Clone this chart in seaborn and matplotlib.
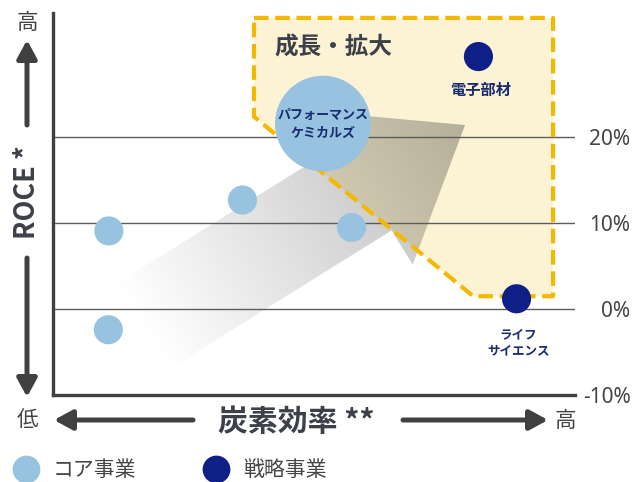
import numpy as np
import pandas as pd
import matplotlib
matplotlib.use('Agg')
import matplotlib.pyplot as plt
from matplotlib.patches import Polygon
from matplotlib.path import Path
from matplotlib.lines import Line2D
import seaborn as sns

#------------------------------ data ------------------------------#
labels = ['', '', '', '', 'パフォーマンス\nケミカルズ', '電子部材', 'ライフ\nサイエンス']
carbon_eff = [10.7, 10.6, 36.3, 57.2, 51.7, 81.5, 88.8]   # 炭素効率 (0-100, 低→高)
roce = [9.1, -2.4, 12.7, 9.5, 21.6, 29.4, 1.2]             # ROCE [%]
group = ['コア事業'] * 5 + ['戦略事業'] * 2
bubble = ['small', 'small', 'small', 'small', 'large', 'small', 'small']

ytick_vals = [-10, 0, 10, 20]
ytick_labels = ['-10%', '0%', '10%', '20%']

# 成長・拡大 zone (dashed) and the grey trend arrow, in data coords
zone_x = [38.5, 95.8, 95.8, 80.5, 38.5]
zone_y = [33.9, 33.9, 1.5, 1.5, 22.4]
arrow_x = [12.55, 54.69, 50.57, 78.93, 68.91, 64.85, 22.70]
arrow_y = [3.10, 19.05, 23.00, 21.43, 5.19, 9.15, -6.80]

df = pd.DataFrame({'x': carbon_eff, 'y': roce, 'group': group,
                   'bubble': bubble, 'label': labels})

#------------------------------ style ------------------------------#
sns.set_theme(style='white')
plt.rcParams['font.family'] = ['Noto Sans CJK JP', 'DejaVu Sans']

light_blue = '#97c3e0'
navy = '#0e1f88'
label_navy = '#182b6e'
dark = '#3d4048'
cream = np.array([252, 243, 213]) / 255
gold = '#f5b800'

fig = plt.figure(figsize=(6.34, 4.82), dpi=100)
ax = fig.add_axes([53 / 634, 87 / 482, 522 / 634, 382 / 482])

# yellow zone fill
ax.add_patch(Polygon(np.column_stack([zone_x, zone_y]), closed=True,
                     facecolor=cream, edgecolor='none', zorder=0.1))

# grey gradient arrow (multiplied on whatever is below it)
ext = [min(arrow_x), max(arrow_x), min(arrow_y), max(arrow_y)]
gx = np.linspace(ext[0], ext[1], 500)
gy = np.linspace(ext[2], ext[3], 400)
XX, YY = np.meshgrid(gx, gy)
u = (XX - 17.62) * 5.22
v = (YY + 1.85) * 8.59
t = np.clip((u * 0.85 + v * 0.53) / 378, 0, 1)
shade = 1 - 0.28 * t
zone_path = Path(np.column_stack([zone_x, zone_y]))
inside = zone_path.contains_points(np.column_stack([XX.ravel(), YY.ravel()])).reshape(XX.shape)
bg = np.where(inside[..., None], cream[None, None, :], np.ones(3)[None, None, :])
img = bg * shade[..., None]
im = ax.imshow(img, extent=ext, origin='lower', aspect='auto',
               interpolation='bilinear', zorder=0.2)
arrow_patch = Polygon(np.column_stack([arrow_x, arrow_y]), closed=True,
                      facecolor='none', edgecolor='none', transform=ax.transData)
ax.add_patch(arrow_patch)
im.set_clip_path(arrow_patch)

# dashed outline of the zone
ax.add_patch(Polygon(np.column_stack([zone_x, zone_y]), closed=True, fill=False,
                     edgecolor=gold, linewidth=3, linestyle=(0, (3.5, 1.6)),
                     joinstyle='round', zorder=1))

# bubbles
sns.scatterplot(data=df, x='x', y='y', hue='group', size='bubble',
                sizes={'small': 440, 'large': 4750},
                palette={'コア事業': light_blue, '戦略事業': navy},
                edgecolor='none', linewidth=0, legend=False, ax=ax, zorder=3)

label_style = {
    'パフォーマンス\nケミカルズ': dict(offset=(0, 0), size=9.4, ls=1.35),
    '電子部材': dict(offset=(1.4, -24), size=11, ls=1.2),
    'ライフ\nサイエンス': dict(offset=(1.4, -31.5), size=9, ls=1.25),
}
for _, r in df.iterrows():
    if r['label']:
        st = label_style[r['label']]
        ax.annotate(r['label'], (r['x'], r['y']), xytext=st['offset'],
                    textcoords='offset points', ha='center', va='center',
                    fontsize=st['size'], fontweight='bold', color=label_navy,
                    linespacing=st['ls'], zorder=4)

ax.text(53.8, 30.45, '成長・拡大', ha='center', va='center', fontsize=17,
        fontweight='bold', color=dark, zorder=4)

# axes
ax.set_xlim(0, 100)
ax.set_ylim(-10, 34.47)
ax.set_xticks([])
ax.yaxis.tick_right()
ax.set_yticks(ytick_vals)
ax.set_yticklabels(ytick_labels, ha='right', fontsize=15, color='#454545',
                   family=['Noto Sans', 'DejaVu Sans'])
ax.tick_params(axis='y', length=0, pad=40)
ax.set_xlabel('')
ax.set_ylabel('')
ax.grid(axis='y', color='#5c5c5c', linewidth=1.0)
ax.grid(axis='x', visible=False)
ax.set_axisbelow(True)
for side in ['top', 'right']:
    ax.spines[side].set_visible(False)
for side in ['left', 'bottom']:
    ax.spines[side].set_color('#404040')
    ax.spines[side].set_linewidth(2.4)

# axis direction arrows and captions
arw = dict(arrowstyle='-|>,head_length=0.55,head_width=0.3', lw=3.6,
           color='#404040', mutation_scale=20, shrinkA=0, shrinkB=0)
for tail, tip in [((27, 357), (27, 442)), ((27, 224), (27, 85)),
                  ((193, 62), (54, 62)), ((403, 62), (548, 62))]:
    ax.annotate('', xy=tip, xytext=tail, xycoords='figure pixels',
                textcoords='figure pixels', arrowprops=arw)

fig.text(27 / 634, 459 / 482, '高', ha='center', va='center', fontsize=15.5, color='#454545')
fig.text(27 / 634, 62 / 482, '低', ha='center', va='center', fontsize=15.5, color='#454545')
fig.text(565 / 634, 61 / 482, '高', ha='center', va='center', fontsize=15.5, color='#454545')
fig.text(27 / 634, 289.5 / 482, 'ROCE *', rotation=90, ha='center', va='center',
         fontsize=19.5, fontweight='bold', color=dark)
fig.text(296.5 / 634, 59.5 / 482, '炭素効率 **', ha='center', va='center',
         fontsize=21.5, fontweight='bold', color=dark)

# legend
handles = [Line2D([], [], marker='o', linestyle='none', markersize=20,
                  markerfacecolor=c, markeredgecolor='none')
           for c in [light_blue, navy]]
fig.legend(handles, ['コア事業', '戦略事業'], loc='center left',
           bbox_to_anchor=(15.6 / 634, 12 / 482), ncol=2, frameon=False,
           fontsize=15, handlelength=1.0, handletextpad=0.8, columnspacing=3.3,
           borderpad=0, borderaxespad=0, labelcolor='#454545')

fig.savefig('out.png', dpi=100)
